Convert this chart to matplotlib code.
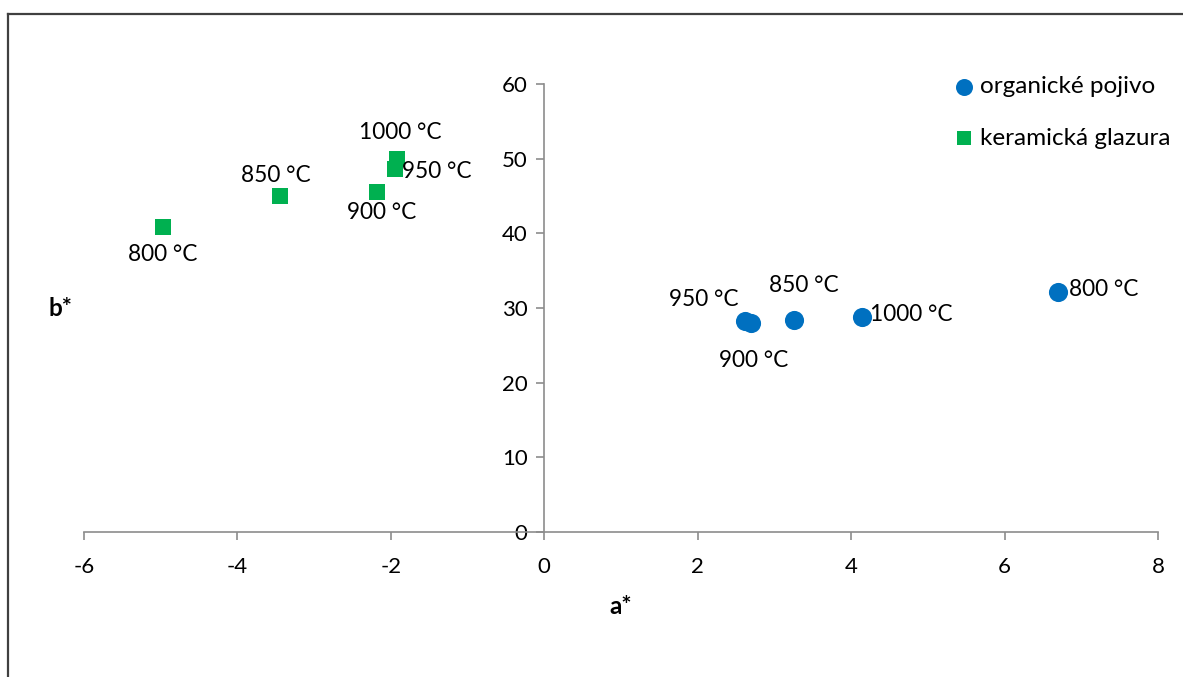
import matplotlib.pyplot as plt
from matplotlib.lines import Line2D

plt.rcParams['font.family'] = ['Lato', 'DejaVu Sans']
plt.rcParams['axes.unicode_minus'] = False

# CIELAB colour coordinates after firing
temps = ['800 °C', '850 °C', '900 °C', '950 °C', '1000 °C']

organic_a = [6.70, 3.25, 2.69, 2.62, 4.14]
organic_b = [32.1, 28.4, 28.0, 28.3, 28.75]

glaze_a = [-4.97, -3.45, -2.18, -1.95, -1.92]
glaze_b = [40.85, 45.0, 45.6, 48.6, 50.0]

x_ticks = [-6, -4, -2, 0, 2, 4, 6, 8]
y_ticks = [0, 10, 20, 30, 40, 50, 60]

blue = '#0070C0'
green = '#00B050'

W, H = 1183, 677
fig = plt.figure(figsize=(W / 100, H / 100), dpi=100)
ax = fig.add_axes([84 / W, 1 - 532 / H, (1158 - 84) / W, (532 - 84) / H])

ax.scatter(organic_a, organic_b, s=190, marker='o', color=blue, zorder=3,
           label='organické pojivo', linewidths=0)
ax.scatter(glaze_a, glaze_b, s=120, marker='s', color=green, zorder=3,
           label='keramická glazura', linewidths=0)

ax.set_xlim(-6, 8)
ax.set_ylim(0, 60)
ax.set_xticks(x_ticks)
ax.set_yticks(y_ticks)

for s in ['top', 'right']:
    ax.spines[s].set_visible(False)
ax.spines['left'].set_position(('data', 0))
ax.spines['bottom'].set_position(('data', 0))
for s in ['left', 'bottom']:
    ax.spines[s].set_color('#8C8C8C')
    ax.spines[s].set_linewidth(1.2)
ax.tick_params(axis='both', colors='#8C8C8C', labelcolor='black',
               labelsize=16, length=6, width=1.2, direction='out')
ax.tick_params(axis='x', pad=12)
ax.tick_params(axis='y', pad=6)

ax.text(-6.3, 30.0, 'b*', fontsize=17.5, fontweight='bold',
        ha='center', va='center')
ax.text(1.0, -10, 'a*', fontsize=17.5, fontweight='bold',
        ha='center', va='center')

# Data labels: offsets in points (dx, dy, ha, va)
fs = 16.3
org_pos = {
    '800 °C': (8, 2, 'left', 'center'),
    '850 °C': (7, 25, 'center', 'center'),
    '900 °C': (2, -27, 'center', 'center'),
    '950 °C': (-5, 15, 'right', 'center'),
    '1000 °C': (6, 2, 'left', 'center'),
}
for t, x, y in zip(temps, organic_a, organic_b):
    dx, dy, ha, va = org_pos[t]
    ax.annotate(t, (x, y), xytext=(dx, dy), textcoords='offset points',
                ha=ha, va=va, fontsize=fs)

glaze_pos = {
    '800 °C': (0, -20, 'center', 'center'),
    '850 °C': (-3, 15, 'center', 'center'),
    '900 °C': (3, -15, 'center', 'center'),
    '950 °C': (5, -2, 'left', 'center'),
    '1000 °C': (2, 19, 'center', 'center'),
}
for t, x, y in zip(temps, glaze_a, glaze_b):
    dx, dy, ha, va = glaze_pos[t]
    ax.annotate(t, (x, y), xytext=(dx, dy), textcoords='offset points',
                ha=ha, va=va, fontsize=fs)

leg = ax.legend(loc='upper left', bbox_to_anchor=(936 / W, 1 - 64 / H),
                bbox_transform=fig.transFigure, frameon=False, fontsize=17.5,
                handletextpad=0.0, labelspacing=1.25, handlelength=1.3,
                borderpad=0)
leg.legend_handles[0].set_sizes([150])
leg.legend_handles[1].set_sizes([95])

# Chart area frame
fig.add_artist(Line2D([8 / W, 1.0], [1 - 14 / H, 1 - 14 / H],
                      transform=fig.transFigure, color='#404040', lw=1.6))
fig.add_artist(Line2D([8 / W, 8 / W], [1 - 14 / H, 0.0],
                      transform=fig.transFigure, color='#404040', lw=1.6))

fig.savefig('out.png', dpi=100, facecolor='white')
